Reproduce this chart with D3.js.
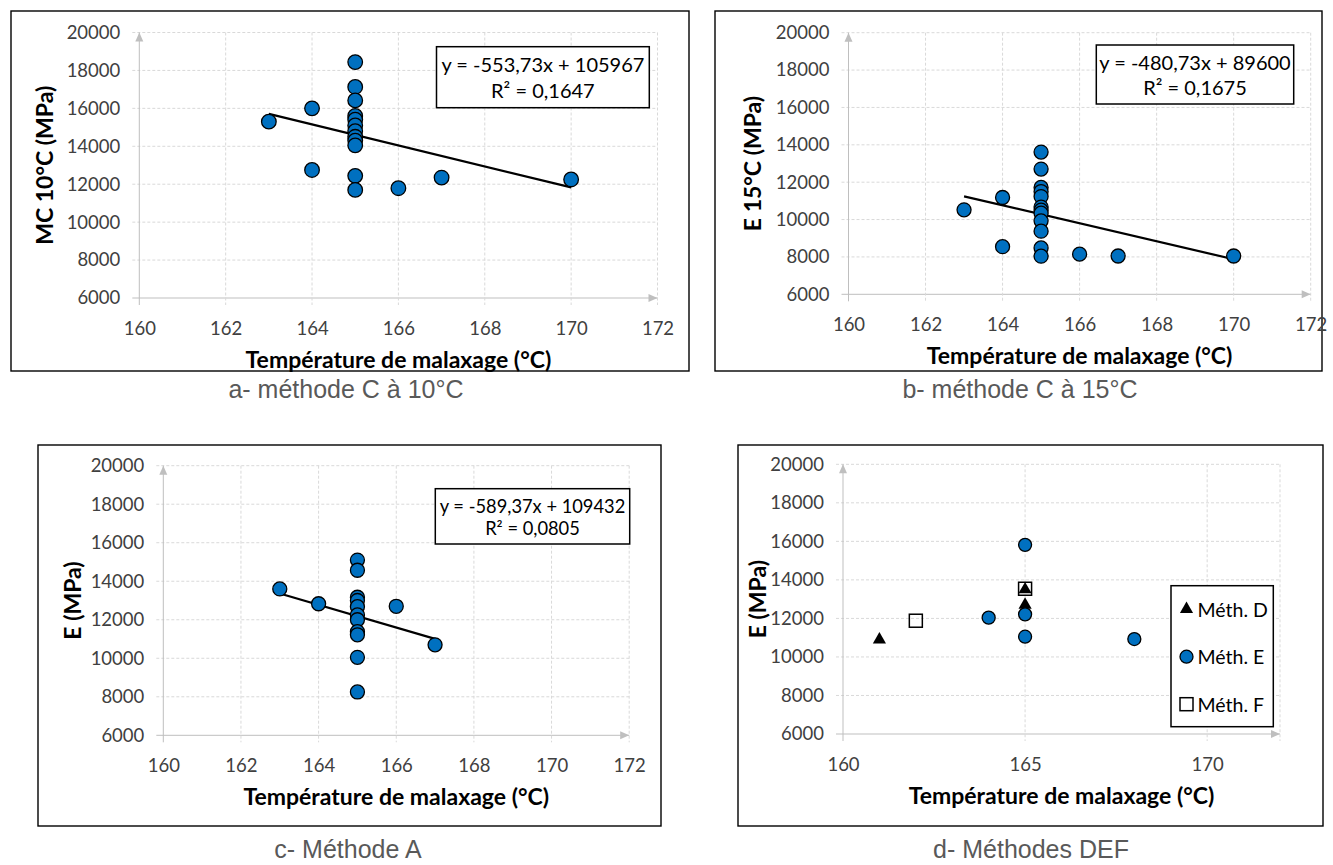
<!DOCTYPE html>
<html><head><meta charset="utf-8">
<script src="https://cdn.jsdelivr.net/npm/d3@7"></script>
<style>body{margin:0;background:#fff} svg{display:block}</style>
</head><body><svg id="c" width="1333" height="865"></svg>
<script>
// ---------- DATA ----------
const xTicksABC = [160, 162, 164, 166, 168, 170, 172];
const xTicksD = [160, 165, 170];
const yTicks = [6000, 8000, 10000, 12000, 14000, 16000, 18000, 20000];

// a - méthode C à 10°C
const tempA = [163, 164, 164, 165, 165, 165, 165, 165, 165, 165, 165, 165, 165, 165, 165, 166, 167, 170];
const mcA   = [15300, 16000, 12750, 18440, 17130, 16420, 15600, 15400, 15100, 14800, 14500, 14300, 14050, 12440, 11700, 11790, 12350, 12250];
const regA = {slope: -553.73, intercept: 105967, from: 163, to: 170, eq: "y = -553,73x + 105967", r2: "R² = 0,1647"};

// b - méthode C à 15°C
const tempB = [163, 164, 164, 165, 165, 165, 165, 165, 165, 165, 165, 165, 165, 165, 165, 166, 167, 170];
const eB    = [10520, 11180, 8550, 13610, 12700, 11720, 11500, 11230, 10670, 10500, 10340, 9930, 9380, 8480, 8040, 8150, 8050, 8050];
const regB = {slope: -480.73, intercept: 89600, from: 163, to: 170, eq: "y = -480,73x + 89600", r2: "R² = 0,1675"};

// c - Méthode A
const tempC = [163, 164, 165, 165, 165, 165, 165, 165, 165, 165, 165, 165, 165, 166, 167];
const eC    = [13600, 12830, 15100, 14570, 13170, 13000, 12680, 12250, 12000, 11380, 11220, 10050, 8250, 12700, 10700];
const regC = {slope: -589.37, intercept: 109432, from: 163, to: 167, eq: "y = -589,37x + 109432", r2: "R² = 0,0805"};

// d - Méthodes DEF
const tempD = [161, 165, 165];
const eD    = [10900, 12700, 13500];
const tempE = [164, 165, 165, 165, 168];
const eE    = [12040, 15820, 12210, 11050, 10930];
const tempF = [162, 165];
const eF    = [11880, 13540];
const legendLabels = ["Méth. D", "Méth. E", "Méth. F"];

// ---------- STYLE ----------
const FONT = "Lato, 'Open Sans', sans-serif";
const CAPFONT = "'Liberation Sans', Arial, sans-serif";
const BLUE = "#0070c0";
const GRID = "#d9d9d9";
const AXIS = "#bfbfbf";
const TXT = "#404040";
const TICKSIZE = 18.5;

const svg = d3.select("#c");

function drawPanel(p) {
  const g = svg.append("g");
  g.append("rect").attr("x", p.frame[0]).attr("y", p.frame[1])
    .attr("width", p.frame[2] - p.frame[0]).attr("height", p.frame[3] - p.frame[1])
    .attr("fill", "#fff").attr("stroke", "#000").attr("stroke-width", 1.4);

  const x = d3.scaleLinear().domain([160, 172]).range([p.x0, p.x1]);
  const y = d3.scaleLinear().domain([6000, 20000]).range([p.yBot, p.yTop]);

  const grid = g.append("g");
  grid.selectAll(".hg").data(yTicks).join("line")
    .attr("x1", p.x0 - 7).attr("x2", p.x1)
    .attr("y1", d => y(d)).attr("y2", d => y(d))
    .attr("stroke", d => d === 6000 ? AXIS : GRID)
    .attr("stroke-dasharray", d => d === 6000 ? null : "3,2")
    .attr("stroke-width", 1);
  const vlines = p.xTicks.concat(p.extraV || []);
  grid.selectAll(".vg").data(vlines).join("line")
    .attr("x1", d => x(d)).attr("x2", d => x(d))
    .attr("y1", p.yTop).attr("y2", p.yBot + 7)
    .attr("stroke", d => d === 160 ? AXIS : GRID)
    .attr("stroke-dasharray", d => d === 160 ? null : "3,2")
    .attr("stroke-width", 1);
  g.append("path").attr("d", `M${p.x0},${p.yTop} l-4,9 l8,0 z`).attr("fill", AXIS);
  g.append("path").attr("d", `M${p.x1},${p.yBot} l-9,-4 l0,8 z`).attr("fill", AXIS);

  const ya = g.append("g").attr("transform", `translate(${p.x0 - 19},0)`)
    .call(d3.axisLeft(y).tickValues(yTicks).tickSize(0).tickPadding(0).tickFormat(d3.format("d")));
  ya.select(".domain").remove();
  ya.selectAll("text").attr("font-family", FONT).attr("font-size", TICKSIZE).attr("fill", TXT);

  const xa = g.append("g").attr("transform", `translate(0,${p.yBot + 24})`)
    .call(d3.axisBottom(x).tickValues(p.xTicks).tickSize(0).tickPadding(0).tickFormat(d3.format("d")));
  xa.select(".domain").remove();
  xa.selectAll("text").attr("font-family", FONT).attr("font-size", TICKSIZE).attr("fill", TXT);

  g.append("text").attr("x", (p.x0 + p.x1) / 2).attr("y", p.yBot + 61)
    .attr("text-anchor", "middle").attr("dominant-baseline", "central")
    .attr("font-family", FONT).attr("font-weight", 700)
    .attr("font-size", 23).attr("fill", "#000").text("Température de malaxage (°C)");
  g.append("text").attr("transform", `translate(${p.yTitleX},${(p.yTop + p.yBot) / 2}) rotate(-90)`)
    .attr("text-anchor", "middle").attr("dominant-baseline", "central")
    .attr("font-family", FONT).attr("font-weight", 700)
    .attr("font-size", 23).attr("fill", "#000").text(p.yTitle);

  if (p.reg) {
    const r = p.reg;
    g.append("line")
      .attr("x1", x(r.from)).attr("y1", y(r.slope * r.from + r.intercept))
      .attr("x2", x(r.to)).attr("y2", y(r.slope * r.to + r.intercept))
      .attr("stroke", "#000").attr("stroke-width", 2.2);
  }

  (p.series || []).forEach(s => {
    const pts = s.xs.map((v, i) => [v, s.ys[i]]);
    const sg = g.append("g");
    if (s.shape === "circle") {
      sg.selectAll("circle").data(pts).join("circle")
        .attr("cx", d => x(d[0])).attr("cy", d => y(d[1])).attr("r", s.r)
        .attr("fill", BLUE).attr("stroke", "#000").attr("stroke-width", 1.3);
    } else if (s.shape === "triangle") {
      sg.selectAll("path").data(pts).join("path")
        .attr("transform", d => `translate(${x(d[0])},${y(d[1])})`)
        .attr("d", d3.symbol(d3.symbolTriangle, 75))
        .attr("fill", "#000");
    } else if (s.shape === "square") {
      sg.selectAll("rect").data(pts).join("rect")
        .attr("x", d => x(d[0]) - 6.5).attr("y", d => y(d[1]) - 6.5)
        .attr("width", 13).attr("height", 13)
        .attr("fill", "none").attr("stroke", "#000").attr("stroke-width", 1.5);
    }
  });

  if (p.eqBox) {
    const b = p.eqBox;
    g.append("rect").attr("x", b[0]).attr("y", b[1]).attr("width", b[2] - b[0]).attr("height", b[3] - b[1])
      .attr("fill", "#fff").attr("stroke", "#000").attr("stroke-width", 1.5);
    const cx = (b[0] + b[2]) / 2;
    g.append("text").attr("x", cx).attr("y", b[1] + 17).attr("text-anchor", "middle")
      .attr("dominant-baseline", "central").attr("font-family", FONT).attr("font-size", p.eqSize)
      .attr("fill", "#000").text(p.reg.eq);
    g.append("text").attr("x", cx).attr("y", b[1] + 43 * (b[3] - b[1]) / 60).attr("text-anchor", "middle")
      .attr("dominant-baseline", "central").attr("font-family", FONT).attr("font-size", p.eqSize)
      .attr("fill", "#000").text(p.reg.r2);
  }

  if (p.legend) {
    const L = p.legend;
    g.append("rect").attr("x", L[0]).attr("y", L[1]).attr("width", L[2] - L[0]).attr("height", L[3] - L[1])
      .attr("fill", "#fff").attr("stroke", "#000").attr("stroke-width", 1.5);
    const rows = [L[1] + 23.5, L[1] + 71, L[1] + 118.5];
    const mx = L[0] + 15.5;
    g.append("path").attr("transform", `translate(${mx},${rows[0]})`)
      .attr("d", d3.symbol(d3.symbolTriangle, 75)).attr("fill", "#000");
    g.append("circle").attr("cx", mx).attr("cy", rows[1]).attr("r", 6.5)
      .attr("fill", BLUE).attr("stroke", "#000").attr("stroke-width", 1.3);
    g.append("rect").attr("x", mx - 6.5).attr("y", rows[2] - 6.5).attr("width", 13).attr("height", 13)
      .attr("fill", "#fff").attr("stroke", "#000").attr("stroke-width", 1.5);
    legendLabels.forEach((t, i) => {
      g.append("text").attr("x", mx + 11).attr("y", rows[i]).attr("dominant-baseline", "central")
        .attr("font-family", FONT).attr("font-size", 19.5).attr("fill", "#000").text(t);
    });
  }

  svg.append("text").attr("x", p.capX).attr("y", p.capY).attr("text-anchor", "middle")
    .attr("dominant-baseline", "central").attr("font-family", CAPFONT).attr("font-size", 25)
    .attr("fill", "#595959").text(p.caption);
}

drawPanel({
  frame: [11, 11, 689, 371], x0: 139.3, x1: 657.5, yTop: 32.5, yBot: 298,
  xTicks: xTicksABC, yTitle: "MC 10°C (MPa)", yTitleX: 44,
  reg: regA, eqBox: [436.5, 46.7, 649.3, 107.7], eqSize: 20,
  series: [{xs: tempA, ys: mcA, shape: "circle", r: 7.3}],
  caption: "a- méthode C à 10°C", capX: 346, capY: 389
});
drawPanel({
  frame: [715, 11, 1322, 371], x0: 848.5, x1: 1310.7, yTop: 32.7, yBot: 294.3,
  xTicks: xTicksABC, yTitle: "E 15°C (MPa)", yTitleX: 752,
  reg: regB, eqBox: [1096.3, 45, 1293.7, 104], eqSize: 20,
  series: [{xs: tempB, ys: eB, shape: "circle", r: 7}],
  caption: "b- méthode C à 15°C", capX: 1020, capY: 389
});
drawPanel({
  frame: [38, 445, 661, 826], x0: 163.3, x1: 629.2, yTop: 465.7, yBot: 735.3,
  xTicks: xTicksABC, yTitle: "E (MPa)", yTitleX: 72,
  reg: regC, eqBox: [435.3, 488.7, 629.7, 544], eqSize: 18.3,
  series: [{xs: tempC, ys: eC, shape: "circle", r: 7}],
  caption: "c- Méthode A", capX: 348, capY: 849
});
drawPanel({
  frame: [738, 445, 1323, 826], x0: 843, x1: 1280, yTop: 464.3, yBot: 734,
  xTicks: xTicksD, extraV: [172], yTitle: "E (MPa)", yTitleX: 757,
  legend: [1171, 585.7, 1273.3, 726.7],
  series: [
    {xs: tempD, ys: eD, shape: "triangle"},
    {xs: tempE, ys: eE, shape: "circle", r: 6.5},
    {xs: tempF, ys: eF, shape: "square"}
  ],
  caption: "d- Méthodes DEF", capX: 1031, capY: 849
});
</script></body></html>
